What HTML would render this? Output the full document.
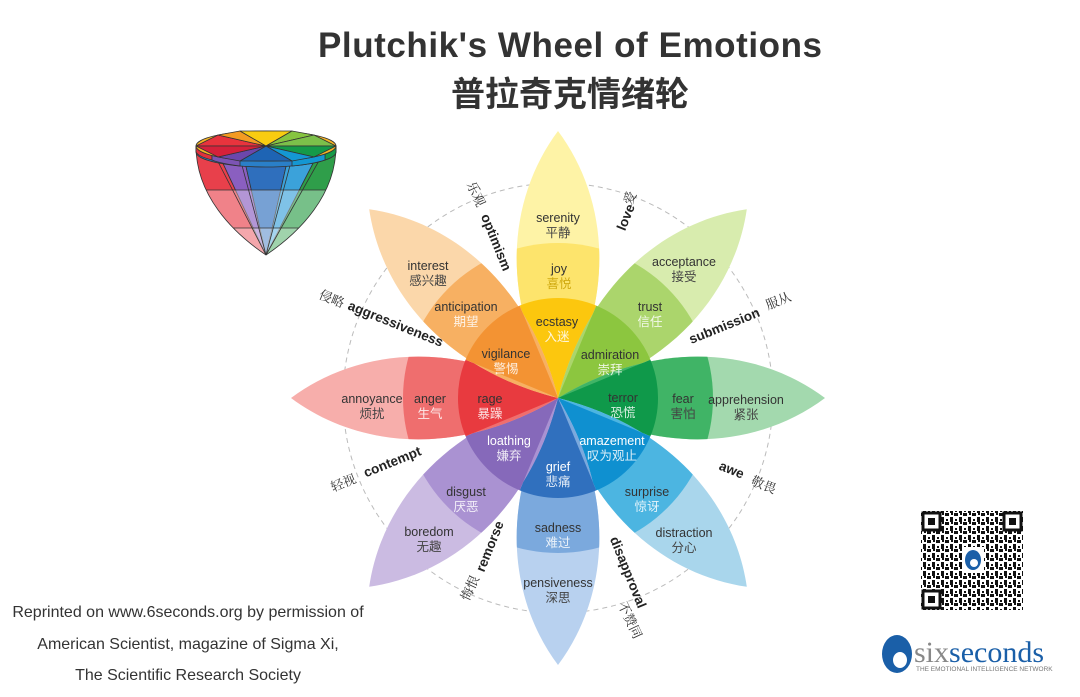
<!DOCTYPE html>
<html><head><meta charset="utf-8"><style>
html,body{margin:0;padding:0;background:#fff}
svg{display:block}
text{font-family:"Liberation Sans","Noto Sans CJK SC",sans-serif}
.l{font-size:12.5px;fill:#333;text-anchor:middle}
.c{font-size:12.5px;fill:#444;text-anchor:middle}
.w{font-size:12.5px;fill:#fff;text-anchor:middle;opacity:.85}
.d{font-size:13.5px;font-weight:bold;fill:#222;text-anchor:middle}
.dc{font-size:13px;fill:#333;text-anchor:middle;font-family:"Noto Serif CJK SC",serif}
</style></head><body>
<svg width="1080" height="697" viewBox="0 0 1080 697" xmlns="http://www.w3.org/2000/svg">
<defs>
<path id="leaf" d="M0,0 C-60,-100 -50,-200 0,-267 C50,-200 60,-100 0,0Z"/>
<clipPath id="lc"><use href="#leaf"/></clipPath>
<clipPath id="cone"><path d="M196,146 C196,195 232,232 266,255 C300,232 336,195 336,146 Z"/></clipPath>
<pattern id="qr" width="9" height="9" patternUnits="userSpaceOnUse">
<rect width="9" height="9" fill="#fff"/><rect x="0" y="0" width="4" height="3" fill="#111"/><rect x="5" y="4" width="3" height="5" fill="#111"/><rect x="1" y="6" width="2" height="2" fill="#111"/><rect x="6" y="0" width="2" height="2" fill="#111"/>
</pattern>
</defs>
<text x="570" y="57" font-size="35" font-weight="bold" fill="#333" text-anchor="middle" textLength="504">Plutchik's Wheel of Emotions</text>
<text x="570" y="106" font-size="34" font-weight="bold" fill="#333" text-anchor="middle" style="font-family:'Noto Sans CJK SC',sans-serif">普拉奇克情绪轮</text>

<!-- cone -->
<g clip-path="url(#cone)" stroke="#333" stroke-width="0.8" stroke-linejoin="round">
<polygon points="190,140 212,140 266,255 190,255" fill="#e8404b"/>
<polygon points="212,140 240,140 266,255" fill="#8a5fc0"/>
<polygon points="240,140 292,140 266,255" fill="#2f6fbd"/>
<polygon points="292,140 325,140 266,255" fill="#3ba2da"/>
<polygon points="325,140 342,140 342,255 266,255" fill="#2f9e4a"/>
<rect x="190" y="190" width="160" height="70" fill="#fff" opacity="0.35" stroke="none"/>
<rect x="190" y="228" width="160" height="40" fill="#fff" opacity="0.3" stroke="none"/>
<line x1="190" y1="190" x2="345" y2="190"/>
<line x1="190" y1="228" x2="345" y2="228"/>
<line x1="212" y1="150" x2="266" y2="255"/><line x1="240" y1="158" x2="266" y2="255"/><line x1="292" y1="158" x2="266" y2="255"/><line x1="325" y1="150" x2="266" y2="255"/>
</g>
<path d="M196,146 C196,195 232,232 266,255 C300,232 336,195 336,146" fill="none" stroke="#333" stroke-width="0.8"/>
<g stroke="#333" stroke-width="0.8" stroke-linejoin="round">
<path d="M196,146 L196,152 A70,15 0 0 0 336,152 L336,146Z" fill="#2a7fc8"/>
<path d="M196,146 L196,152 A70,15 0 0 0 212,160 L212,154Z" fill="#e0303c"/>
<path d="M212,154 L212,160 A70,15 0 0 0 240,166 L240,160Z" fill="#7c54b4"/>
<path d="M325,154 L325,160 A70,15 0 0 0 336,152 L336,146Z" fill="#169a48"/>
<path d="M292,160 L292,166 A70,15 0 0 0 325,160 L325,154Z" fill="#1497d2"/>
<ellipse cx="266" cy="146" rx="70" ry="15" fill="#f5b324"/>
<polygon points="196,146 266,146 218,135" fill="#e8343d"/>
<polygon points="218,135 266,146 240,131" fill="#f49b22"/>
<polygon points="240,131 266,146 292,131" fill="#f8cc10"/>
<polygon points="292,131 266,146 314,135" fill="#86c440"/>
<polygon points="314,135 266,146 336,146" fill="#7cc04a"/>
<polygon points="336,146 266,146 314,157" fill="#159a48"/>
<polygon points="314,157 266,146 292,161" fill="#1497d2"/>
<polygon points="292,161 266,146 240,161" fill="#1e64b4"/>
<polygon points="240,161 266,146 218,157" fill="#6b47ab"/>
<polygon points="218,157 266,146 196,146" fill="#d5213a"/>
</g>

<!-- wheel -->
<circle cx="558" cy="398" r="215" fill="none" stroke="#bbb" stroke-width="1" stroke-dasharray="5,4"/>
<g transform="translate(558,398)">
<g transform="rotate(0)"><use href="#leaf" fill="#fef3a6"/><circle r="155" fill="#fde46c" clip-path="url(#lc)"/><path d="M0,0 L-38.3,-92.4 A100,100 0 0 1 38.3,-92.4Z" fill="#fcc70e"/></g>
<g transform="rotate(45)"><use href="#leaf" fill="#d8ecae"/><circle r="155" fill="#abd56c" clip-path="url(#lc)"/><path d="M0,0 L-38.3,-92.4 A100,100 0 0 1 38.3,-92.4Z" fill="#8cc63f"/></g>
<g transform="rotate(90)"><use href="#leaf" fill="#a3d9ae"/><circle r="155" fill="#40b466" clip-path="url(#lc)"/><path d="M0,0 L-38.3,-92.4 A100,100 0 0 1 38.3,-92.4Z" fill="#0f994a"/></g>
<g transform="rotate(135)"><use href="#leaf" fill="#a9d6ec"/><circle r="155" fill="#4cb5e1" clip-path="url(#lc)"/><path d="M0,0 L-38.3,-92.4 A100,100 0 0 1 38.3,-92.4Z" fill="#0f90d0"/></g>
<g transform="rotate(180)"><use href="#leaf" fill="#b8d1ef"/><circle r="155" fill="#7ba9dd" clip-path="url(#lc)"/><path d="M0,0 L-38.3,-92.4 A100,100 0 0 1 38.3,-92.4Z" fill="#3070be"/></g>
<g transform="rotate(225)"><use href="#leaf" fill="#cbbbe2"/><circle r="155" fill="#aa92d2" clip-path="url(#lc)"/><path d="M0,0 L-38.3,-92.4 A100,100 0 0 1 38.3,-92.4Z" fill="#8669ba"/></g>
<g transform="rotate(270)"><use href="#leaf" fill="#f7aeab"/><circle r="155" fill="#ef6e6e" clip-path="url(#lc)"/><path d="M0,0 L-38.3,-92.4 A100,100 0 0 1 38.3,-92.4Z" fill="#e83a3f"/></g>
<g transform="rotate(315)"><use href="#leaf" fill="#fbd7aa"/><circle r="155" fill="#f7b062" clip-path="url(#lc)"/><path d="M0,0 L-38.3,-92.4 A100,100 0 0 1 38.3,-92.4Z" fill="#f39333"/></g>
</g>

<g>
<text class="l" x="558" y="222">serenity</text><text class="c" x="558" y="237">平静</text>
<text class="l" x="559" y="273">joy</text><text class="w" x="559" y="288" style="fill:#c9a000">喜悦</text>
<text class="l" x="557" y="326">ecstasy</text><text class="w" x="557" y="341">入迷</text>
<text class="l" x="684" y="266">acceptance</text><text class="c" x="684" y="281">接受</text>
<text class="l" x="650" y="311">trust</text><text class="w" x="650" y="326">信任</text>
<text class="l" x="610" y="359">admiration</text><text class="w" x="610" y="374">崇拜</text>
<text class="l" x="746" y="404">apprehension</text><text class="c" x="746" y="419">紧张</text>
<text class="l" x="683" y="403">fear</text><text class="c" x="683" y="418">害怕</text>
<text class="l" x="623" y="402">terror</text><text class="w" x="623" y="417">恐慌</text>
<text class="l" x="612" y="445" style="fill:#fff">amazement</text><text class="w" x="612" y="460">叹为观止</text>
<text class="l" x="647" y="496">surprise</text><text class="w" x="647" y="511">惊讶</text>
<text class="l" x="684" y="537">distraction</text><text class="c" x="684" y="552">分心</text>
<text class="l" x="558" y="471" style="fill:#fff">grief</text><text class="w" x="558" y="486">悲痛</text>
<text class="l" x="558" y="532">sadness</text><text class="w" x="558" y="547">难过</text>
<text class="l" x="558" y="587">pensiveness</text><text class="c" x="558" y="602">深思</text>
<text class="l" x="509" y="445" style="fill:#fff">loathing</text><text class="w" x="509" y="460">嫌弃</text>
<text class="l" x="466" y="496">disgust</text><text class="w" x="466" y="511">厌恶</text>
<text class="l" x="429" y="536">boredom</text><text class="c" x="429" y="551">无趣</text>
<text class="l" x="490" y="403">rage</text><text class="w" x="490" y="418">暴躁</text>
<text class="l" x="430" y="403">anger</text><text class="w" x="430" y="418">生气</text>
<text class="l" x="372" y="403">annoyance</text><text class="c" x="372" y="418">烦扰</text>
<text class="l" x="506" y="358">vigilance</text><text class="w" x="506" y="373">警惕</text>
<text class="l" x="466" y="311">anticipation</text><text class="w" x="466" y="326">期望</text>
<text class="l" x="428" y="270">interest</text><text class="c" x="428" y="285">感兴趣</text>
</g>

<g>
<text class="d" transform="translate(492,244) rotate(68)">optimism</text>
<text class="d" transform="translate(630,219) rotate(-68)">love</text>
<text class="d" transform="translate(726,330) rotate(-22)">submission</text>
<text class="d" transform="translate(394,328) rotate(22)">aggressiveness</text>
<text class="d" transform="translate(394,466) rotate(-22)">contempt</text>
<text class="d" transform="translate(730,474) rotate(22)">awe</text>
<text class="d" transform="translate(494,548) rotate(-68)">remorse</text>
<text class="d" transform="translate(624,574) rotate(68)">disapproval</text>
<text class="dc" transform="translate(472,196) rotate(65)">乐观</text>
<text class="dc" transform="translate(634,200) rotate(-65)">爱</text>
<text class="dc" transform="translate(780,305) rotate(-22)">服从</text>
<text class="dc" transform="translate(330,303) rotate(22)">侵略</text>
<text class="dc" transform="translate(345,487) rotate(-22)">轻视</text>
<text class="dc" transform="translate(762,489) rotate(22)">敬畏</text>
<text class="dc" transform="translate(474,590) rotate(-65)">悔恨</text>
<text class="dc" transform="translate(626,622) rotate(65)">不赞同</text>
</g>

<g font-size="16" fill="#333" text-anchor="middle">
<text x="188" y="617">Reprinted on www.6seconds.org by permission of</text>
<text x="188" y="649">American Scientist, magazine of Sigma Xi,</text>
<text x="188" y="680">The Scientific Research Society</text>
</g>

<!-- QR -->
<rect x="921" y="511" width="102" height="99" fill="url(#qr)"/>
<g fill="#fff" stroke="#111" stroke-width="3">
<rect x="923" y="513" width="17" height="17"/><rect x="1004" y="513" width="17" height="17"/><rect x="923" y="591" width="17" height="17"/>
</g>
<g fill="#111"><rect x="928" y="518" width="7" height="7"/><rect x="1009" y="518" width="7" height="7"/><rect x="928" y="596" width="7" height="7"/></g>
<rect x="962" y="547" width="22" height="26" fill="#fff"/>
<ellipse cx="973" cy="560" rx="8" ry="10" fill="#1a5fa8"/>
<circle cx="974" cy="563" r="4" fill="#fff"/>

<!-- logo -->
<ellipse cx="897" cy="654" rx="15" ry="19" fill="#1a5fa8"/>
<ellipse cx="900" cy="660" rx="7" ry="8" fill="#fff"/>
<text x="914" y="662" font-size="30" fill="#888" style="font-family:'Liberation Serif',serif">six<tspan fill="#1a5fa8">seconds</tspan></text>
<text x="916" y="671" font-size="6.5" fill="#777">THE EMOTIONAL INTELLIGENCE NETWORK</text>
</svg>
</body></html>
